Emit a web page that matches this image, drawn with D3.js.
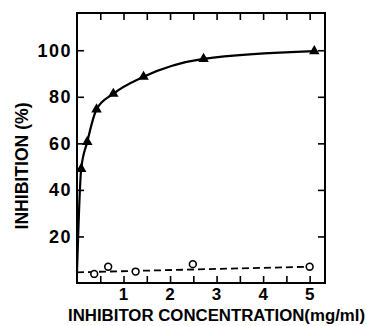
<!DOCTYPE html>
<html>
<head>
<meta charset="utf-8">
<script src="https://cdn.jsdelivr.net/npm/d3@7"></script>
<style>
  body { margin: 0; background: #fff; }
  text { font-family: "Liberation Sans", Arial, sans-serif; fill: #000; }
</style>
</head>
<body>
<svg id="chart" width="367" height="326"></svg>
<script>
// triangles: inhibitor, solid curve
const triX = [0, 0.09, 0.22, 0.42, 0.78, 1.43, 2.72, 5.1]
const triY = [4.6, 49, 60.6, 74.6, 81.3, 88.6, 96.3, 99.6]
// open circles: control, dashed line
const circX = [0.37, 0.67, 1.26, 2.49, 5.0]
const circY = [3.9, 7, 4.9, 8.1, 7]
const fitX = [0, 5.0]
const fitY = [4.6, 7]

const yTicks = [20, 40, 60, 80, 100]
const xTicks = d3.range(0.5, 5.01, 0.5)
const xLabels = [1, 2, 3, 4, 5]

const margin = { left: 77, right: 325, top: 13, bottom: 283 }
const svg = d3.select('#chart')

const x = d3.scaleLinear().domain([0, 5.33]).range([margin.left, margin.right])
const y = d3.scaleLinear().domain([0, 116]).range([margin.bottom, margin.top])

// frame
svg.append('rect')
  .attr('x', margin.left).attr('y', margin.top)
  .attr('width', margin.right - margin.left)
  .attr('height', margin.bottom - margin.top)
  .attr('fill', 'none').attr('stroke', '#000').attr('stroke-width', 2)

const tickLen = 7

// inward ticks on all four sides
svg.append('g').attr('transform', `translate(${margin.left},0)`)
  .call(d3.axisRight(y).tickValues(yTicks).tickSize(tickLen).tickFormat(''))
  .call(g => g.select('.domain').remove())
svg.append('g').attr('transform', `translate(${margin.right},0)`)
  .call(d3.axisLeft(y).tickValues(yTicks).tickSize(tickLen).tickFormat(''))
  .call(g => g.select('.domain').remove())
svg.append('g').attr('transform', `translate(0,${margin.bottom})`)
  .call(d3.axisTop(x).tickValues(xTicks).tickSize(tickLen).tickFormat(''))
  .call(g => g.select('.domain').remove())
svg.append('g').attr('transform', `translate(0,${margin.top})`)
  .call(d3.axisBottom(x).tickValues(xTicks).tickSize(tickLen).tickFormat(''))
  .call(g => g.select('.domain').remove())
svg.selectAll('.tick line').attr('stroke', '#000').attr('stroke-width', 1.6)

// tick labels
svg.append('g').selectAll('text')
  .data(yTicks)
  .join('text')
  .attr('x', 72)
  .attr('y', d => y(d) + 6.5)
  .attr('text-anchor', 'end')
  .attr('font-size', 18)
  .attr('font-weight', 'bold')
  .attr('letter-spacing', 1.5)
  .text(d => d)

svg.append('g').selectAll('text')
  .data(xLabels)
  .join('text')
  .attr('x', d => x(d))
  .attr('y', 300)
  .attr('text-anchor', 'middle')
  .attr('font-size', 17)
  .attr('font-weight', 'bold')
  .text(d => d)

// axis titles
svg.append('text')
  .attr('transform', 'translate(28,166) rotate(-90)')
  .attr('text-anchor', 'middle')
  .attr('font-size', 18)
  .attr('font-weight', 'bold')
  .attr('textLength', 127)
  .attr('lengthAdjust', 'spacingAndGlyphs')
  .text('INHIBITION (%)')

svg.append('text')
  .attr('x', 68)
  .attr('y', 321)
  .attr('font-size', 16)
  .attr('font-weight', 'bold')
  .attr('textLength', 297)
  .attr('lengthAdjust', 'spacingAndGlyphs')
  .text('INHIBITOR  CONCENTRATION(mg/ml)')

// dashed control line
svg.append('path')
  .datum(fitX.map((d, i) => [d, fitY[i]]))
  .attr('d', d3.line().x(d => x(d[0])).y(d => y(d[1])))
  .attr('fill', 'none').attr('stroke', '#000')
  .attr('stroke-width', 1.8).attr('stroke-dasharray', '7,4')

// solid inhibitor curve
svg.append('path')
  .datum(triX.map((d, i) => [d, triY[i]]))
  .attr('d', d3.line().curve(d3.curveMonotoneX).x(d => x(d[0])).y(d => y(d[1])))
  .attr('fill', 'none').attr('stroke', '#000').attr('stroke-width', 2.2)

// triangles (skip the starting point at origin)
svg.append('g').selectAll('path')
  .data(triX.map((d, i) => [d, triY[i]]).slice(1))
  .join('path')
  .attr('d', d3.symbol(d3.symbolTriangle, 48))
  .attr('transform', d => `translate(${x(d[0])},${y(d[1])})`)
  .attr('fill', '#000')

// open circles
svg.append('g').selectAll('circle')
  .data(circX.map((d, i) => [d, circY[i]]))
  .join('circle')
  .attr('cx', d => x(d[0]))
  .attr('cy', d => y(d[1]))
  .attr('r', 3.4)
  .attr('fill', '#fff').attr('stroke', '#000').attr('stroke-width', 1.6)
</script>
</body>
</html>
